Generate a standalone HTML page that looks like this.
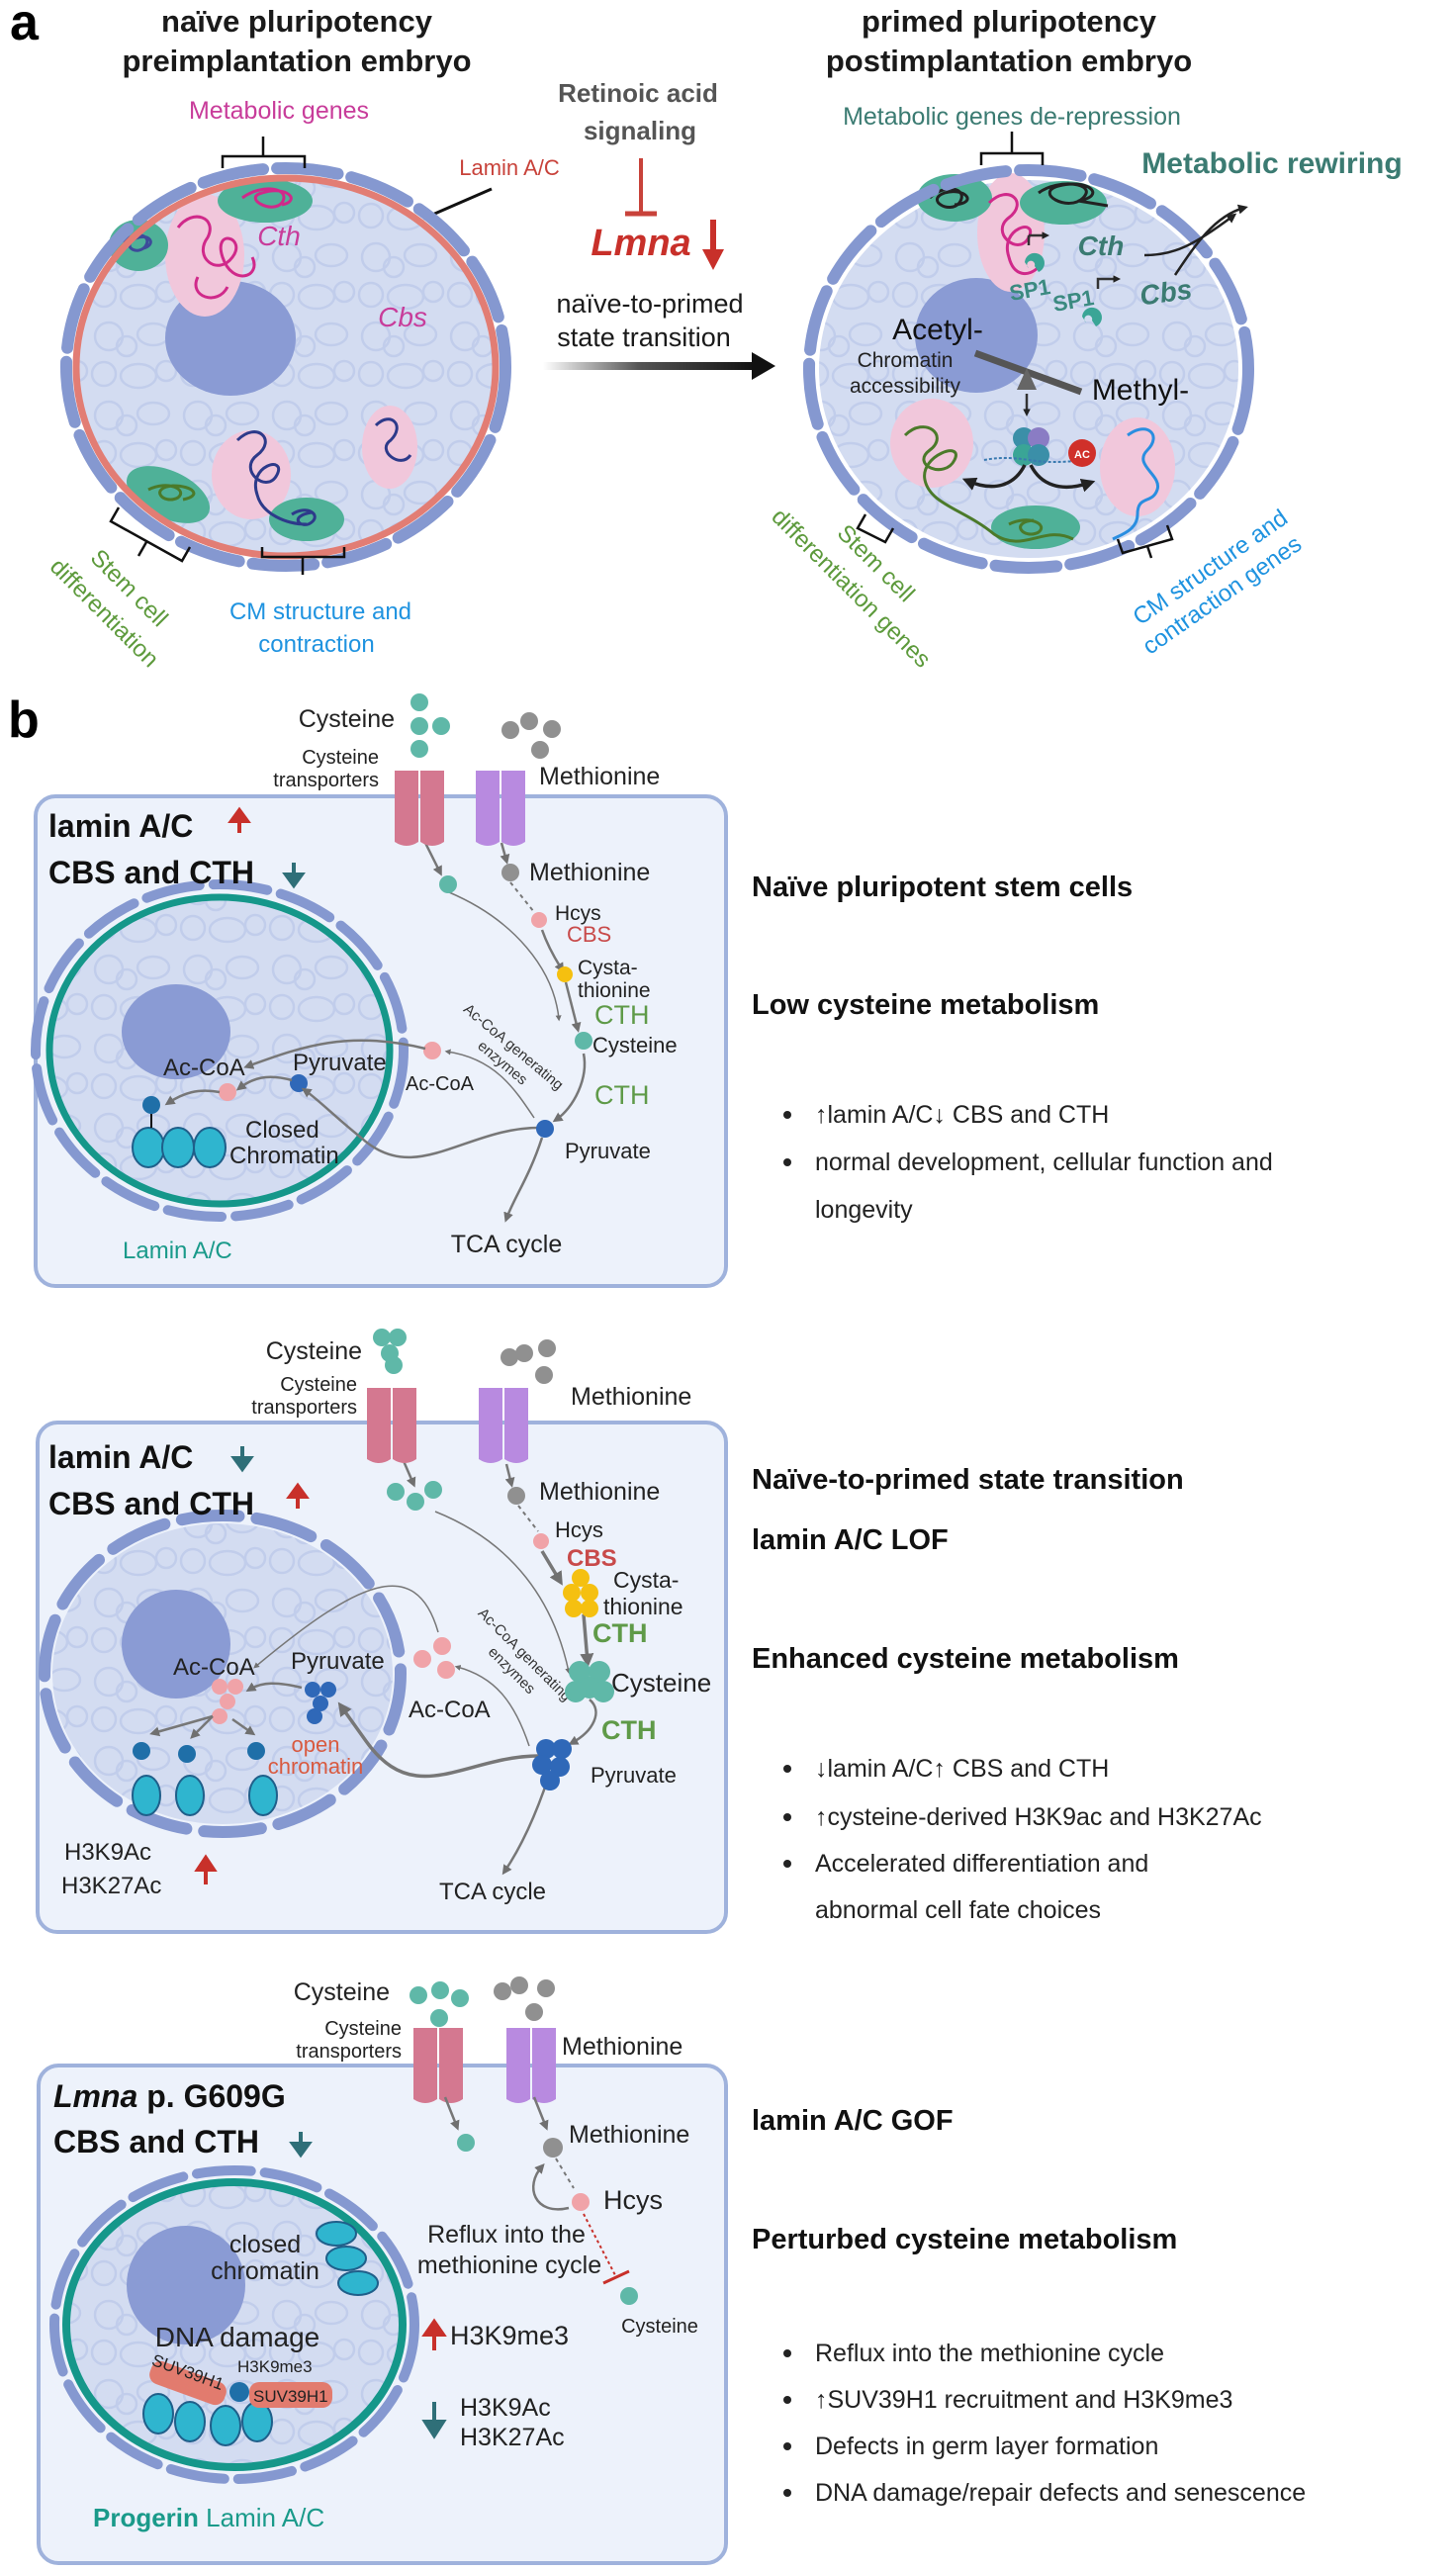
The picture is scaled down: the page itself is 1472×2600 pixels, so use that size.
<!DOCTYPE html>
<html><head><meta charset="utf-8"><style>
html,body{margin:0;padding:0;background:#fff;}
svg{display:block;font-family:"Liberation Sans",Arial,sans-serif;}
</style></head><body>
<svg width="1472" height="2600" viewBox="0 0 1472 2600" xmlns="http://www.w3.org/2000/svg">
<defs>
<pattern id="chr" width="90" height="80" patternUnits="userSpaceOnUse">
<g fill="none" stroke="#b3c0e6" stroke-width="2.5">
<circle cx="20" cy="20" r="14"/><circle cx="38" cy="30" r="10"/><ellipse cx="65" cy="18" rx="16" ry="11"/>
<circle cx="15" cy="58" r="12"/><ellipse cx="50" cy="60" rx="18" ry="12"/><circle cx="78" cy="55" r="10"/>
</g></pattern>
<marker id="ag" viewBox="0 0 10 10" refX="6" refY="5" markerWidth="4" markerHeight="4" orient="auto"><path d="M0,0L10,5L0,10z" fill="#707070"/></marker>
<marker id="ak" viewBox="0 0 10 10" refX="6" refY="5" markerWidth="4" markerHeight="4" orient="auto"><path d="M0,0L10,5L0,10z" fill="#222"/></marker>
<marker id="ak2" viewBox="0 0 10 10" refX="6" refY="5" markerWidth="3" markerHeight="3" orient="auto"><path d="M0,0L10,5L0,10z" fill="#222"/></marker>
<linearGradient id="grd" x1="0" x2="1" y1="0" y2="0"><stop offset="0" stop-color="#fff"/><stop offset="0.45" stop-color="#555"/><stop offset="1" stop-color="#111"/></linearGradient>
<g id="tp"><path d="M0,0 h24 v72 q-12,8 -24,0z M26,0 h24 v72 q-12,8 -24,0z"/></g>
</defs>

<!-- ===== PANEL A ===== -->
<text x="10" y="40" font-size="52" font-weight="bold">a</text>
<g font-size="31" font-weight="bold" text-anchor="middle" fill="#1a1a1a">
<text x="300" y="32">naïve pluripotency</text><text x="300" y="72">preimplantation embryo</text>
<text x="1020" y="32">primed pluripotency</text><text x="1020" y="72">postimplantation embryo</text>
</g>
<g font-size="26" font-weight="bold" text-anchor="middle" fill="#555"><text x="645" y="103">Retinoic acid</text><text x="647" y="141">signaling</text></g>
<text x="282" y="120" font-size="25" text-anchor="middle" fill="#c83c9a">Metabolic genes</text>
<text x="515" y="177" font-size="22" text-anchor="middle" fill="#c8423a">Lamin A/C</text>
<line x1="497" y1="191" x2="428" y2="221" stroke="#111" stroke-width="3"/>
<line x1="648" y1="160" x2="648" y2="215" stroke="#c8423a" stroke-width="4"/><line x1="632" y1="216" x2="664" y2="216" stroke="#c8423a" stroke-width="5"/>
<text x="648" y="258" font-size="38" font-weight="bold" font-style="italic" text-anchor="middle" fill="#c8302a">Lmna</text>
<line x1="721" y1="222" x2="721" y2="255" stroke="#c8302a" stroke-width="6"/><path d="M710,252 L732,252 L721,273z" fill="#c8302a"/>
<g font-size="27" text-anchor="middle" fill="#1a1a1a"><text x="657" y="316">naïve-to-primed</text><text x="651" y="350">state transition</text></g>
<rect x="549" y="366" width="214" height="8" fill="url(#grd)"/><path d="M760,356 L784,370 L760,384z" fill="#111"/>

<!-- left nucleus -->
<g>
<ellipse cx="289" cy="371" rx="212" ry="191" fill="#d3dcf1"/>
<ellipse cx="289" cy="371" rx="212" ry="191" fill="url(#chr)" opacity="0.55"/>
<ellipse cx="233" cy="342" rx="66" ry="58" fill="#8a9bd4"/>
<ellipse cx="207" cy="258" rx="40" ry="62" fill="#f1c7db"/>
<ellipse cx="268" cy="203" rx="48" ry="22" fill="#4fb198"/>
<ellipse cx="140" cy="248" rx="30" ry="26" fill="#4fb198"/>
<ellipse cx="254" cy="480" rx="40" ry="45" fill="#f1c7db"/>
<ellipse cx="394" cy="452" rx="28" ry="42" fill="#f1c7db"/>
<ellipse cx="170" cy="500" rx="45" ry="24" fill="#4fb198" transform="rotate(25 170 500)"/>
<ellipse cx="310" cy="525" rx="38" ry="22" fill="#4fb198"/>
<path d="M245,200 c20,-15 50,-10 40,5 c-10,12 -40,-5 -20,-10 c25,-8 40,8 20,12 M180,230 c15,-20 40,-10 30,10 c-15,20 10,40 25,20 c15,-20 -20,-30 -10,0 c10,30 40,20 30,0 M200,280 c-10,20 20,30 30,10" fill="none" stroke="#d0298a" stroke-width="3"/>
<path d="M125,245 c10,-12 30,-8 22,4 c-8,10 -25,0 -10,-8 c14,-6 22,6 8,10" fill="none" stroke="#3d4b9a" stroke-width="3"/>
<path d="M150,495 c20,-10 40,0 30,8 c-15,8 -30,-10 -5,-12 c20,0 30,10 10,14" fill="none" stroke="#4b7a2a" stroke-width="3"/>
<path d="M295,520 c15,-10 30,0 20,8 c-10,8 -25,-6 0,-10 M240,445 c20,-20 40,0 20,15 c-20,15 10,40 20,20 c10,-20 -30,-10 -20,20 c5,20 30,30 50,30 M380,430 c15,-15 30,0 15,15 c-15,10 10,30 20,15" fill="none" stroke="#2d3a8a" stroke-width="3"/>
<ellipse cx="289" cy="371" rx="212" ry="191" fill="none" stroke="#e27d74" stroke-width="7"/>
<ellipse cx="289" cy="371" rx="222" ry="201" fill="none" stroke="#8598d0" stroke-width="12" stroke-dasharray="62 14" stroke-linecap="round"/>
</g>
<text x="282" y="248" font-size="28" font-style="italic" text-anchor="middle" fill="#c83c9a">Cth</text>
<text x="407" y="330" font-size="28" font-style="italic" text-anchor="middle" fill="#c83c9a">Cbs</text>
<path d="M225,170 v-12 h83 v12 M266,158 v-20" fill="none" stroke="#111" stroke-width="2.5"/>
<path d="M265,553 v10 h83 v-10 M306,563 v18" fill="none" stroke="#111" stroke-width="2.5"/>
<path d="M120,513 l-8,14 l72,40 l8,-14 M148,548 l-8,14" fill="none" stroke="#111" stroke-width="2.5"/>
<g font-size="24" fill="#5d9a3c" text-anchor="middle"><text transform="translate(125,600) rotate(45)">Stem cell</text><text transform="translate(100,625) rotate(45)">differentiation</text></g>
<g font-size="24" fill="#1f93e0" text-anchor="middle"><text x="324" y="626">CM structure and</text><text x="320" y="659">contraction</text></g>

<!-- right nucleus -->
<g>
<ellipse cx="1040" cy="373" rx="212" ry="191" fill="#d3dcf1"/>
<ellipse cx="1040" cy="373" rx="212" ry="191" fill="url(#chr)" opacity="0.55"/>
<ellipse cx="987" cy="339" rx="62" ry="58" fill="#8a9bd4"/>
<ellipse cx="1022" cy="235" rx="34" ry="60" fill="#f1c7db"/>
<ellipse cx="965" cy="200" rx="38" ry="24" fill="#4fb198"/>
<ellipse cx="1075" cy="205" rx="44" ry="22" fill="#4fb198"/>
<path d="M940,200 c15,-15 40,-10 30,5 c-10,12 -35,-3 -15,-10 c20,-6 35,10 10,12 M1050,195 c20,-15 60,-10 45,5 c-15,15 -50,-5 -25,-12 c30,-8 50,10 20,15 l30,5" fill="none" stroke="#222" stroke-width="3"/>
<path d="M1000,205 c20,-20 40,0 20,15 c-20,15 10,40 20,20 c10,-20 -30,-10 -20,20 c5,20 20,20 30,10" fill="none" stroke="#d0298a" stroke-width="3"/>
<ellipse cx="942" cy="448" rx="42" ry="45" fill="#f1c7db"/>
<ellipse cx="1150" cy="472" rx="38" ry="50" fill="#f1c7db"/>
<ellipse cx="1047" cy="533" rx="45" ry="22" fill="#4fb198"/>
<path d="M915,440 c20,-20 45,0 25,15 c-20,15 15,30 25,10 c10,-20 -35,-5 -30,20 c5,25 40,30 70,55 c30,20 50,-10 80,5 M1020,530 c20,-10 40,0 30,8 c-15,8 -30,-10 -5,-12" fill="none" stroke="#4b7a2a" stroke-width="3"/>
<path d="M1140,440 c20,-15 35,0 20,15 c-15,15 15,25 10,40 c-5,15 -20,5 -20,25 c0,15 -15,20 -25,25" fill="none" stroke="#2a8ee0" stroke-width="3"/>
<ellipse cx="1040" cy="373" rx="222" ry="201" fill="none" stroke="#8598d0" stroke-width="12" stroke-dasharray="62 14" stroke-linecap="round"/>
</g>
<path d="M992,167 v-12 h62 v12 M1023,155 v-22" fill="none" stroke="#111" stroke-width="2.5"/>
<text x="1023" y="126" font-size="25" text-anchor="middle" fill="#3b7b72">Metabolic genes de-repression</text>
<text x="1286" y="175" font-size="30" font-weight="bold" text-anchor="middle" fill="#3b7b72">Metabolic  rewiring</text>
<path d="M1040,248 v-10 M1040,238 h18" stroke="#333" stroke-width="2.5" fill="none" marker-end="url(#ak2)"/>
<text x="1113" y="258" font-size="28" font-weight="bold" font-style="italic" text-anchor="middle" fill="#3b7b72">Cth</text>
<text x="1180" y="305" font-size="28" font-weight="bold" font-style="italic" text-anchor="middle" fill="#3b7b72" transform="rotate(-8 1180 305)">Cbs</text>
<path d="M1110,292 v-10 h20" stroke="#333" stroke-width="2.5" fill="none" marker-end="url(#ak2)"/>
<path d="M1036,265 a10,10 0 1,1 14,10 l-4,-6 a4,4 0 1,0 -6,2z M1094,320 a10,10 0 1,1 14,10 l-4,-6 a4,4 0 1,0 -6,2z" fill="#3aa596"/>
<g font-size="22" font-weight="bold" fill="#3b8a80"><text x="1022" y="304" transform="rotate(-10 1022 304)">SP1</text><text x="1066" y="315" transform="rotate(-10 1066 315)">SP1</text></g>
<path d="M1157,258 c30,0 50,-10 90,-40" fill="none" stroke="#222" stroke-width="2.5" marker-end="url(#ak)"/>
<path d="M1188,278 c20,-30 40,-60 70,-68" fill="none" stroke="#222" stroke-width="2.5" marker-end="url(#ak)"/>
<line x1="986" y1="357" x2="1093" y2="396" stroke="#555" stroke-width="7"/>
<path d="M1038,372 l-10,22 h20z" fill="#666"/>
<line x1="1038" y1="398" x2="1038" y2="418" stroke="#333" stroke-width="2.5" marker-end="url(#ak2)"/>
<text x="948" y="343" font-size="30" text-anchor="middle" fill="#111">Acetyl-</text>
<g font-size="21" text-anchor="middle" fill="#222"><text x="915" y="371">Chromatin</text><text x="915" y="397">accessibility</text></g>
<text x="1153" y="404" font-size="30" text-anchor="middle" fill="#111">Methyl-</text>
<g><circle cx="1035" cy="443" r="11" fill="#3b8fa8"/><circle cx="1050" cy="443" r="11" fill="#8a7cc4"/><circle cx="1035" cy="460" r="11" fill="#3aa596"/><circle cx="1050" cy="460" r="11" fill="#3b8fa8"/></g>
<path d="M995,465 q20,-4 45,0 q25,4 55,0" stroke="#3a7ab0" stroke-width="2" fill="none" stroke-dasharray="3 2"/>
<circle cx="1094" cy="458" r="14" fill="#d0302a"/><text x="1094" y="463" font-size="11" font-weight="bold" fill="#fff" text-anchor="middle">AC</text>
<path d="M1036,470 c-10,20 -30,28 -58,16" fill="none" stroke="#222" stroke-width="3.5" marker-end="url(#ak)"/>
<path d="M1042,470 c10,20 30,28 60,18" fill="none" stroke="#222" stroke-width="3.5" marker-end="url(#ak)"/>
<path d="M875,520 l-8,14 l28,14 l8,-14" fill="none" stroke="#111" stroke-width="2.5"/>
<path d="M1130,545 l5,14 l50,-14 l-5,-14 M1160,552 l4,12" fill="none" stroke="#111" stroke-width="2.5"/>
<g font-size="24" fill="#5d9a3c" text-anchor="middle"><text transform="translate(880,575) rotate(45)">Stem cell</text><text transform="translate(855,600) rotate(45)">differentiation genes</text></g>
<g font-size="24" fill="#1f93e0" text-anchor="middle"><text transform="translate(1228,580) rotate(-35)">CM structure and</text><text transform="translate(1240,608) rotate(-35)">contraction genes</text></g>

<!-- ===== PANEL B ===== -->
<text x="8" y="745" font-size="52" font-weight="bold">b</text>

<!-- Box 1 -->
<rect x="36" y="805" width="698" height="495" rx="20" fill="#edf2fb" stroke="#9fb2dc" stroke-width="4"/>
<g>
<ellipse cx="222" cy="1062" rx="172" ry="155" fill="#d3dcf1"/>
<ellipse cx="222" cy="1062" rx="172" ry="155" fill="url(#chr)" opacity="0.55"/>
<ellipse cx="178" cy="1043" rx="55" ry="48" fill="#8a9bd4"/>
<ellipse cx="222" cy="1062" rx="186" ry="168" fill="none" stroke="#8598d0" stroke-width="10" stroke-dasharray="55 14" stroke-linecap="round"/>
<ellipse cx="222" cy="1062" rx="172" ry="155" fill="none" stroke="#15978a" stroke-width="7"/>
</g>
<g fill="#2fb5cf" stroke="#1f5f8a" stroke-width="2"><ellipse cx="150" cy="1160" rx="16" ry="20"/><ellipse cx="180" cy="1160" rx="16" ry="20"/><ellipse cx="212" cy="1160" rx="16" ry="20"/></g>
<circle cx="153" cy="1117" r="9" fill="#1f6fa8"/><line x1="153" y1="1126" x2="153" y2="1140" stroke="#111" stroke-width="2"/>
<circle cx="230" cy="1104" r="9" fill="#f0a3a8"/><circle cx="302" cy="1095" r="9" fill="#2f68b8"/>
<circle cx="437" cy="1062" r="9" fill="#f0a3a8"/>
<g font-size="24" fill="#222"><text x="165" y="1087">Ac-CoA</text><text x="296" y="1082">Pyruvate</text><text x="248" y="1150">Closed</text><text x="232" y="1176">Chromatin</text><text x="410" y="1102" font-size="20">Ac-CoA</text></g>
<text x="124" y="1272" font-size="24" fill="#1a9a8a">Lamin A/C</text>
<g fill="none" stroke="#777" stroke-width="2.5">
<path d="M430,1060 C350,1040 300,1060 250,1078" marker-end="url(#ag)"/>
<path d="M295,1092 C270,1085 255,1090 242,1100" marker-end="url(#ag)"/>
<path d="M222,1104 C200,1100 185,1105 170,1115" marker-end="url(#ag)"/>
<path d="M545,1140 C470,1140 420,1200 365,1150 C340,1130 320,1110 308,1102" marker-end="url(#ag)"/>
<path d="M540,1130 C520,1100 500,1070 452,1063" marker-end="url(#ag)" stroke-width="1.5"/>
<path d="M548,1150 C535,1190 520,1210 512,1232" marker-end="url(#ag)"/>
<path d="M590,1065 C595,1090 580,1120 562,1132" marker-end="url(#ag)"/>
<path d="M454,902 C520,930 560,980 565,1030" marker-end="url(#ag)" stroke-width="1.5"/>
<path d="M548,940 C555,960 565,975 568,980" marker-end="url(#ag)"/>
<path d="M572,993 L584,1040" marker-end="url(#ag)"/>
<path d="M430,852 L445,882" marker-end="url(#ag)"/>
<path d="M507,852 L512,870" marker-end="url(#ag)"/>
</g>
<path d="M516,892 L540,922" stroke="#777" stroke-width="2" stroke-dasharray="4 4"/>
<text x="516" y="1062" font-size="15" text-anchor="middle" fill="#333" transform="rotate(40 516 1062)">Ac-CoA generating</text>
<text x="505" y="1078" font-size="15" text-anchor="middle" fill="#333" transform="rotate(40 505 1078)">enzymes</text>
<g fill="#5fb8a8"><circle cx="424" cy="710" r="9"/><circle cx="424" cy="734" r="9"/><circle cx="446" cy="734" r="9"/><circle cx="424" cy="757" r="9"/><circle cx="453" cy="894" r="9"/><circle cx="590" cy="1052" r="9"/></g>
<g fill="#909090"><circle cx="516" cy="738" r="9"/><circle cx="535" cy="729" r="9"/><circle cx="558" cy="737" r="9"/><circle cx="546" cy="758" r="9"/><circle cx="516" cy="882" r="9"/></g>
<g fill="#d47890"><use href="#tp" x="399" y="779"/></g>
<g fill="#b88ae0"><use href="#tp" x="481" y="779"/></g>
<circle cx="545" cy="930" r="8" fill="#f0a3a8"/><circle cx="571" cy="985" r="8" fill="#f5c010"/><circle cx="551" cy="1141" r="9" fill="#2f68b8"/>
<g font-size="25" fill="#222">
<text x="399" y="735" text-anchor="end">Cysteine</text>
<text x="383" y="772" font-size="20" text-anchor="end">Cysteine</text><text x="383" y="795" font-size="20" text-anchor="end">transporters</text>
<text x="545" y="793">Methionine</text><text x="535" y="890">Methionine</text>
<text x="561" y="930" font-size="21">Hcys</text>
<text x="584" y="985" font-size="21">Cysta-</text><text x="584" y="1008" font-size="21">thionine</text>
<text x="599" y="1064" font-size="22">Cysteine</text><text x="571" y="1171" font-size="22">Pyruvate</text>
<text x="512" y="1266" text-anchor="middle">TCA cycle</text>
</g>
<text x="573" y="952" font-size="22" fill="#c84a4a">CBS</text>
<g font-size="27" fill="#5f9a48"><text x="601" y="1035">CTH</text><text x="601" y="1116">CTH</text></g>
<g font-size="32" font-weight="bold" fill="#111"><text x="49" y="846">lamin A/C</text><text x="49" y="893">CBS and CTH</text></g>
<path d="M242,842 v-16 M234,830 l8,-11 l8,11z" stroke="#c8302a" stroke-width="4" fill="#c8302a"/>
<path d="M297,872 v16 M289,884 l8,11 l8,-11z" stroke="#2f6f78" stroke-width="4" fill="#2f6f78"/>

<!-- Box 2 -->
<rect x="38" y="1438" width="696" height="515" rx="20" fill="#edf2fb" stroke="#9fb2dc" stroke-width="4"/>
<g>
<ellipse cx="225" cy="1692" rx="172" ry="152" fill="#d3dcf1"/>
<ellipse cx="225" cy="1692" rx="172" ry="152" fill="url(#chr)" opacity="0.55"/>
<ellipse cx="178" cy="1662" rx="55" ry="55" fill="#8a9bd4"/>
<ellipse cx="225" cy="1692" rx="180" ry="160" fill="none" stroke="#8598d0" stroke-width="12" stroke-dasharray="58 18" stroke-linecap="round"/>
</g>
<g fill="#2fb5cf" stroke="#1f5f8a" stroke-width="2"><ellipse cx="148" cy="1815" rx="14" ry="20"/><ellipse cx="192" cy="1815" rx="14" ry="20"/><ellipse cx="266" cy="1815" rx="14" ry="20"/></g>
<g fill="#1f6fa8"><circle cx="143" cy="1770" r="9"/><circle cx="189" cy="1773" r="9"/><circle cx="259" cy="1770" r="9"/></g>
<g fill="#f0a3a8"><circle cx="222" cy="1705" r="8"/><circle cx="238" cy="1705" r="8"/><circle cx="230" cy="1720" r="8"/><circle cx="222" cy="1735" r="8"/><circle cx="427" cy="1677" r="9"/><circle cx="447" cy="1664" r="9"/><circle cx="451" cy="1688" r="9"/></g>
<g fill="#2f68b8"><circle cx="316" cy="1708" r="8"/><circle cx="332" cy="1708" r="8"/><circle cx="324" cy="1722" r="8"/><circle cx="318" cy="1735" r="8"/></g>
<g font-size="24" fill="#222"><text x="175" y="1693">Ac-CoA</text><text x="294" y="1687">Pyruvate</text><text x="413" y="1736">Ac-CoA</text>
<text x="65" y="1880">H3K9Ac</text><text x="62" y="1914">H3K27Ac</text><text x="498" y="1920" text-anchor="middle">TCA cycle</text></g>
<g font-size="22" fill="#d85a40" text-anchor="middle"><text x="319" y="1771">open</text><text x="319" y="1793">chromatin</text></g>
<path d="M208,1905 v-18 M200,1890 l8,-12 l8,12z" stroke="#c8302a" stroke-width="4" fill="#c8302a"/>
<g fill="none" stroke="#777" stroke-width="2.5">
<path d="M443,1650 C420,1570 360,1600 258,1685" marker-end="url(#ag)" stroke-width="1.5"/>
<path d="M305,1706 C280,1700 265,1700 252,1708" marker-end="url(#ag)"/>
<path d="M215,1735 L195,1755" marker-end="url(#ag)"/><path d="M215,1735 L155,1752" marker-end="url(#ag)"/><path d="M235,1738 L255,1752" marker-end="url(#ag)"/>
<path d="M545,1775 C470,1775 420,1830 370,1760 L345,1725" marker-end="url(#ag)" stroke-width="3.5"/>
<path d="M535,1765 C520,1720 500,1695 462,1685" marker-end="url(#ag)" stroke-width="1.5"/>
<path d="M555,1795 C540,1840 525,1870 510,1892" marker-end="url(#ag)"/>
<path d="M596,1718 C610,1730 600,1750 578,1762" marker-end="url(#ag)"/>
<path d="M440,1528 C520,1560 560,1620 575,1690" marker-end="url(#ag)" stroke-width="1.5"/>
<path d="M548,1568 L566,1598" marker-end="url(#ag)" stroke-width="3.5"/>
<path d="M590,1632 L594,1680" marker-end="url(#ag)" stroke-width="3.5"/>
<path d="M405,1470 L418,1500" marker-end="url(#ag)"/>
<path d="M512,1480 L517,1500" marker-end="url(#ag)"/>
</g>
<path d="M524,1522 L544,1548" stroke="#777" stroke-width="2" stroke-dasharray="4 4"/>
<text x="527" y="1676" font-size="15" text-anchor="middle" fill="#333" transform="rotate(45 527 1676)">Ac-CoA generating</text>
<text x="514" y="1692" font-size="15" text-anchor="middle" fill="#333" transform="rotate(45 514 1692)">enzymes</text>
<g fill="#5fb8a8"><circle cx="386" cy="1352" r="9"/><circle cx="402" cy="1352" r="9"/><circle cx="394" cy="1368" r="9"/><circle cx="398" cy="1380" r="9"/><circle cx="400" cy="1508" r="9"/><circle cx="420" cy="1518" r="9"/><circle cx="438" cy="1506" r="9"/>
<circle cx="586" cy="1690" r="11"/><circle cx="606" cy="1690" r="11"/><circle cx="596" cy="1706" r="11"/><circle cx="582" cy="1710" r="11"/><circle cx="610" cy="1710" r="11"/></g>
<g fill="#909090"><circle cx="515" cy="1372" r="9"/><circle cx="530" cy="1368" r="9"/><circle cx="553" cy="1363" r="9"/><circle cx="550" cy="1390" r="9"/><circle cx="522" cy="1512" r="9"/></g>
<g fill="#f5c010"><circle cx="587" cy="1595" r="9"/><circle cx="578" cy="1610" r="9"/><circle cx="596" cy="1610" r="9"/><circle cx="580" cy="1626" r="9"/><circle cx="596" cy="1626" r="9"/></g>
<g fill="#2f68b8"><circle cx="552" cy="1768" r="10"/><circle cx="568" cy="1768" r="10"/><circle cx="548" cy="1784" r="10"/><circle cx="566" cy="1786" r="10"/><circle cx="556" cy="1800" r="10"/></g>
<g fill="#d47890"><use href="#tp" x="371" y="1403"/></g>
<g fill="#b88ae0"><use href="#tp" x="484" y="1403"/></g>
<circle cx="547" cy="1558" r="8" fill="#f0a3a8"/>
<g font-size="25" fill="#222">
<text x="366" y="1374" text-anchor="end">Cysteine</text>
<text x="361" y="1406" font-size="20" text-anchor="end">Cysteine</text><text x="361" y="1429" font-size="20" text-anchor="end">transporters</text>
<text x="577" y="1420">Methionine</text><text x="545" y="1516">Methionine</text>
<text x="561" y="1554" font-size="22">Hcys</text>
<text x="620" y="1605" font-size="23">Cysta-</text><text x="610" y="1632" font-size="23">thionine</text>
<text x="618" y="1710" font-size="26">Cysteine</text><text x="597" y="1802" font-size="22">Pyruvate</text>
</g>
<text x="573" y="1583" font-size="24" font-weight="bold" fill="#c84a4a">CBS</text>
<g font-size="27" font-weight="bold" fill="#5f9a48"><text x="599" y="1660">CTH</text><text x="608" y="1758">CTH</text></g>
<g font-size="32" font-weight="bold" fill="#111"><text x="49" y="1484">lamin A/C</text><text x="49" y="1531">CBS and CTH</text></g>
<path d="M245,1462 v16 M237,1474 l8,11 l8,-11z" stroke="#2f6f78" stroke-width="4" fill="#2f6f78"/>
<path d="M301,1525 v-16 M293,1513 l8,-11 l8,11z" stroke="#c8302a" stroke-width="4" fill="#c8302a"/>

<!-- Box 3 -->
<rect x="39" y="2088" width="695" height="503" rx="20" fill="#edf2fb" stroke="#9fb2dc" stroke-width="4"/>
<g>
<ellipse cx="237" cy="2350" rx="170" ry="144" fill="#d3dcf1"/>
<ellipse cx="237" cy="2350" rx="170" ry="144" fill="url(#chr)" opacity="0.55"/>
<ellipse cx="188" cy="2310" rx="60" ry="60" fill="#8a9bd4"/>
<ellipse cx="237" cy="2350" rx="182" ry="156" fill="none" stroke="#8598d0" stroke-width="10" stroke-dasharray="55 14" stroke-linecap="round"/>
<ellipse cx="237" cy="2350" rx="170" ry="144" fill="none" stroke="#15978a" stroke-width="8"/>
</g>
<g fill="#2fb5cf" stroke="#1f5f8a" stroke-width="2">
<ellipse cx="340" cy="2258" rx="20" ry="12"/><ellipse cx="350" cy="2283" rx="20" ry="12"/><ellipse cx="362" cy="2308" rx="20" ry="12"/>
<ellipse cx="160" cy="2440" rx="15" ry="20"/><ellipse cx="192" cy="2448" rx="15" ry="20"/><ellipse cx="228" cy="2452" rx="15" ry="20"/><ellipse cx="260" cy="2448" rx="15" ry="20"/></g>
<rect x="150" y="2397" width="80" height="24" rx="10" fill="#e27b6e" transform="rotate(20 190 2409)"/>
<rect x="252" y="2408" width="84" height="26" rx="10" fill="#e27b6e"/>
<circle cx="242" cy="2418" r="10" fill="#1f6fa8"/>
<g font-size="17" fill="#222"><text x="150" y="2404" transform="rotate(20 190 2404)">SUV39H1</text><text x="256" y="2428">SUV39H1</text><text x="240" y="2398" font-size="17">H3K9me3</text></g>
<g font-size="25" fill="#222"><text x="268" y="2277" text-anchor="middle">closed</text><text x="268" y="2304" text-anchor="middle">chromatin</text>
<text x="240" y="2372" font-size="28" text-anchor="middle">DNA damage</text>
<text x="455" y="2370" font-size="27">H3K9me3</text><text x="465" y="2442">H3K9Ac</text><text x="465" y="2472">H3K27Ac</text></g>
<path d="M439,2376 v-20 M430,2360 l9,-13 l9,13z" stroke="#c8302a" stroke-width="4" fill="#c8302a"/>
<path d="M439,2428 v22 M430,2448 l9,14 l9,-14z" stroke="#2f6f78" stroke-width="4" fill="#2f6f78"/>
<text x="94" y="2554" font-size="26" fill="#1a9a8a"><tspan font-weight="bold">Progerin</tspan> Lamin A/C</text>
<g fill="#5fb8a8"><circle cx="423" cy="2017" r="9"/><circle cx="445" cy="2012" r="9"/><circle cx="465" cy="2020" r="9"/><circle cx="444" cy="2040" r="9"/><circle cx="471" cy="2166" r="9"/><circle cx="636" cy="2321" r="9"/></g>
<g fill="#909090"><circle cx="508" cy="2013" r="9"/><circle cx="525" cy="2007" r="9"/><circle cx="552" cy="2010" r="9"/><circle cx="540" cy="2034" r="9"/><circle cx="559" cy="2171" r="10"/></g>
<g fill="#d47890"><use href="#tp" x="418" y="2050"/></g>
<g fill="#b88ae0"><use href="#tp" x="512" y="2050"/></g>
<circle cx="587" cy="2226" r="9" fill="#f0a3a8"/>
<g fill="none" stroke="#777" stroke-width="2.5">
<path d="M450,2120 L462,2150" marker-end="url(#ag)"/><path d="M540,2120 L552,2150" marker-end="url(#ag)"/>
<path d="M575,2232 C540,2240 530,2210 548,2190" marker-end="url(#ag)"/>
</g>
<path d="M562,2182 L580,2212" stroke="#777" stroke-width="2" stroke-dasharray="4 4"/>
<path d="M590,2238 L622,2300" stroke="#c8302a" stroke-width="2" stroke-dasharray="3 3"/>
<line x1="610" y1="2308" x2="636" y2="2296" stroke="#c8302a" stroke-width="3"/>
<g font-size="25" fill="#222">
<text x="394" y="2022" text-anchor="end">Cysteine</text>
<text x="406" y="2057" font-size="20" text-anchor="end">Cysteine</text><text x="406" y="2080" font-size="20" text-anchor="end">transporters</text>
<text x="568" y="2077">Methionine</text><text x="575" y="2166">Methionine</text>
<text x="610" y="2233" font-size="27">Hcys</text>
<text x="512" y="2267" text-anchor="middle">Reflux into the</text><text x="515" y="2298" text-anchor="middle">methionine cycle</text>
<text x="667" y="2358" font-size="20" text-anchor="middle">Cysteine</text>
</g>
<text x="54" y="2130" font-size="32" font-weight="bold" fill="#111"><tspan font-style="italic">Lmna</tspan> p. G609G</text>
<text x="54" y="2176" font-size="32" font-weight="bold" fill="#111">CBS and CTH</text>
<path d="M304,2155 v16 M296,2167 l8,11 l8,-11z" stroke="#2f6f78" stroke-width="4" fill="#2f6f78"/>

<!-- Right text -->
<g font-size="29" font-weight="bold" fill="#111">
<text x="760" y="906">Naïve pluripotent stem cells</text>
<text x="760" y="1025">Low cysteine metabolism</text>
<text x="760" y="1505">Naïve-to-primed state transition</text>
<text x="760" y="1566">lamin A/C LOF</text>
<text x="760" y="1686">Enhanced cysteine metabolism</text>
<text x="760" y="2153">lamin A/C GOF</text>
<text x="760" y="2273">Perturbed cysteine metabolism</text>
</g>
<g font-size="25" fill="#222">
<g fill="#222"><circle cx="796" cy="1127" r="4"/><circle cx="796" cy="1175" r="4"/><circle cx="796" cy="1788" r="4"/><circle cx="796" cy="1837" r="4"/><circle cx="796" cy="1884" r="4"/>
<circle cx="796" cy="2379" r="4"/><circle cx="796" cy="2426" r="4"/><circle cx="796" cy="2473" r="4"/><circle cx="796" cy="2520" r="4"/></g>
<text x="824" y="1135">↑lamin A/C↓ CBS and CTH</text>
<text x="824" y="1183">normal development, cellular function and</text>
<text x="824" y="1231">longevity</text>
<text x="824" y="1796">↓lamin A/C↑  CBS and CTH</text>
<text x="824" y="1845">↑cysteine-derived H3K9ac and H3K27Ac</text>
<text x="824" y="1892">Accelerated differentiation and</text>
<text x="824" y="1939">abnormal cell fate choices</text>
<text x="824" y="2387">Reflux into the methionine cycle</text>
<text x="824" y="2434">↑SUV39H1 recruitment   and H3K9me3</text>
<text x="824" y="2481">Defects in germ layer formation</text>
<text x="824" y="2528">DNA damage/repair defects and senescence</text>
</g>
</svg>
</body></html>
